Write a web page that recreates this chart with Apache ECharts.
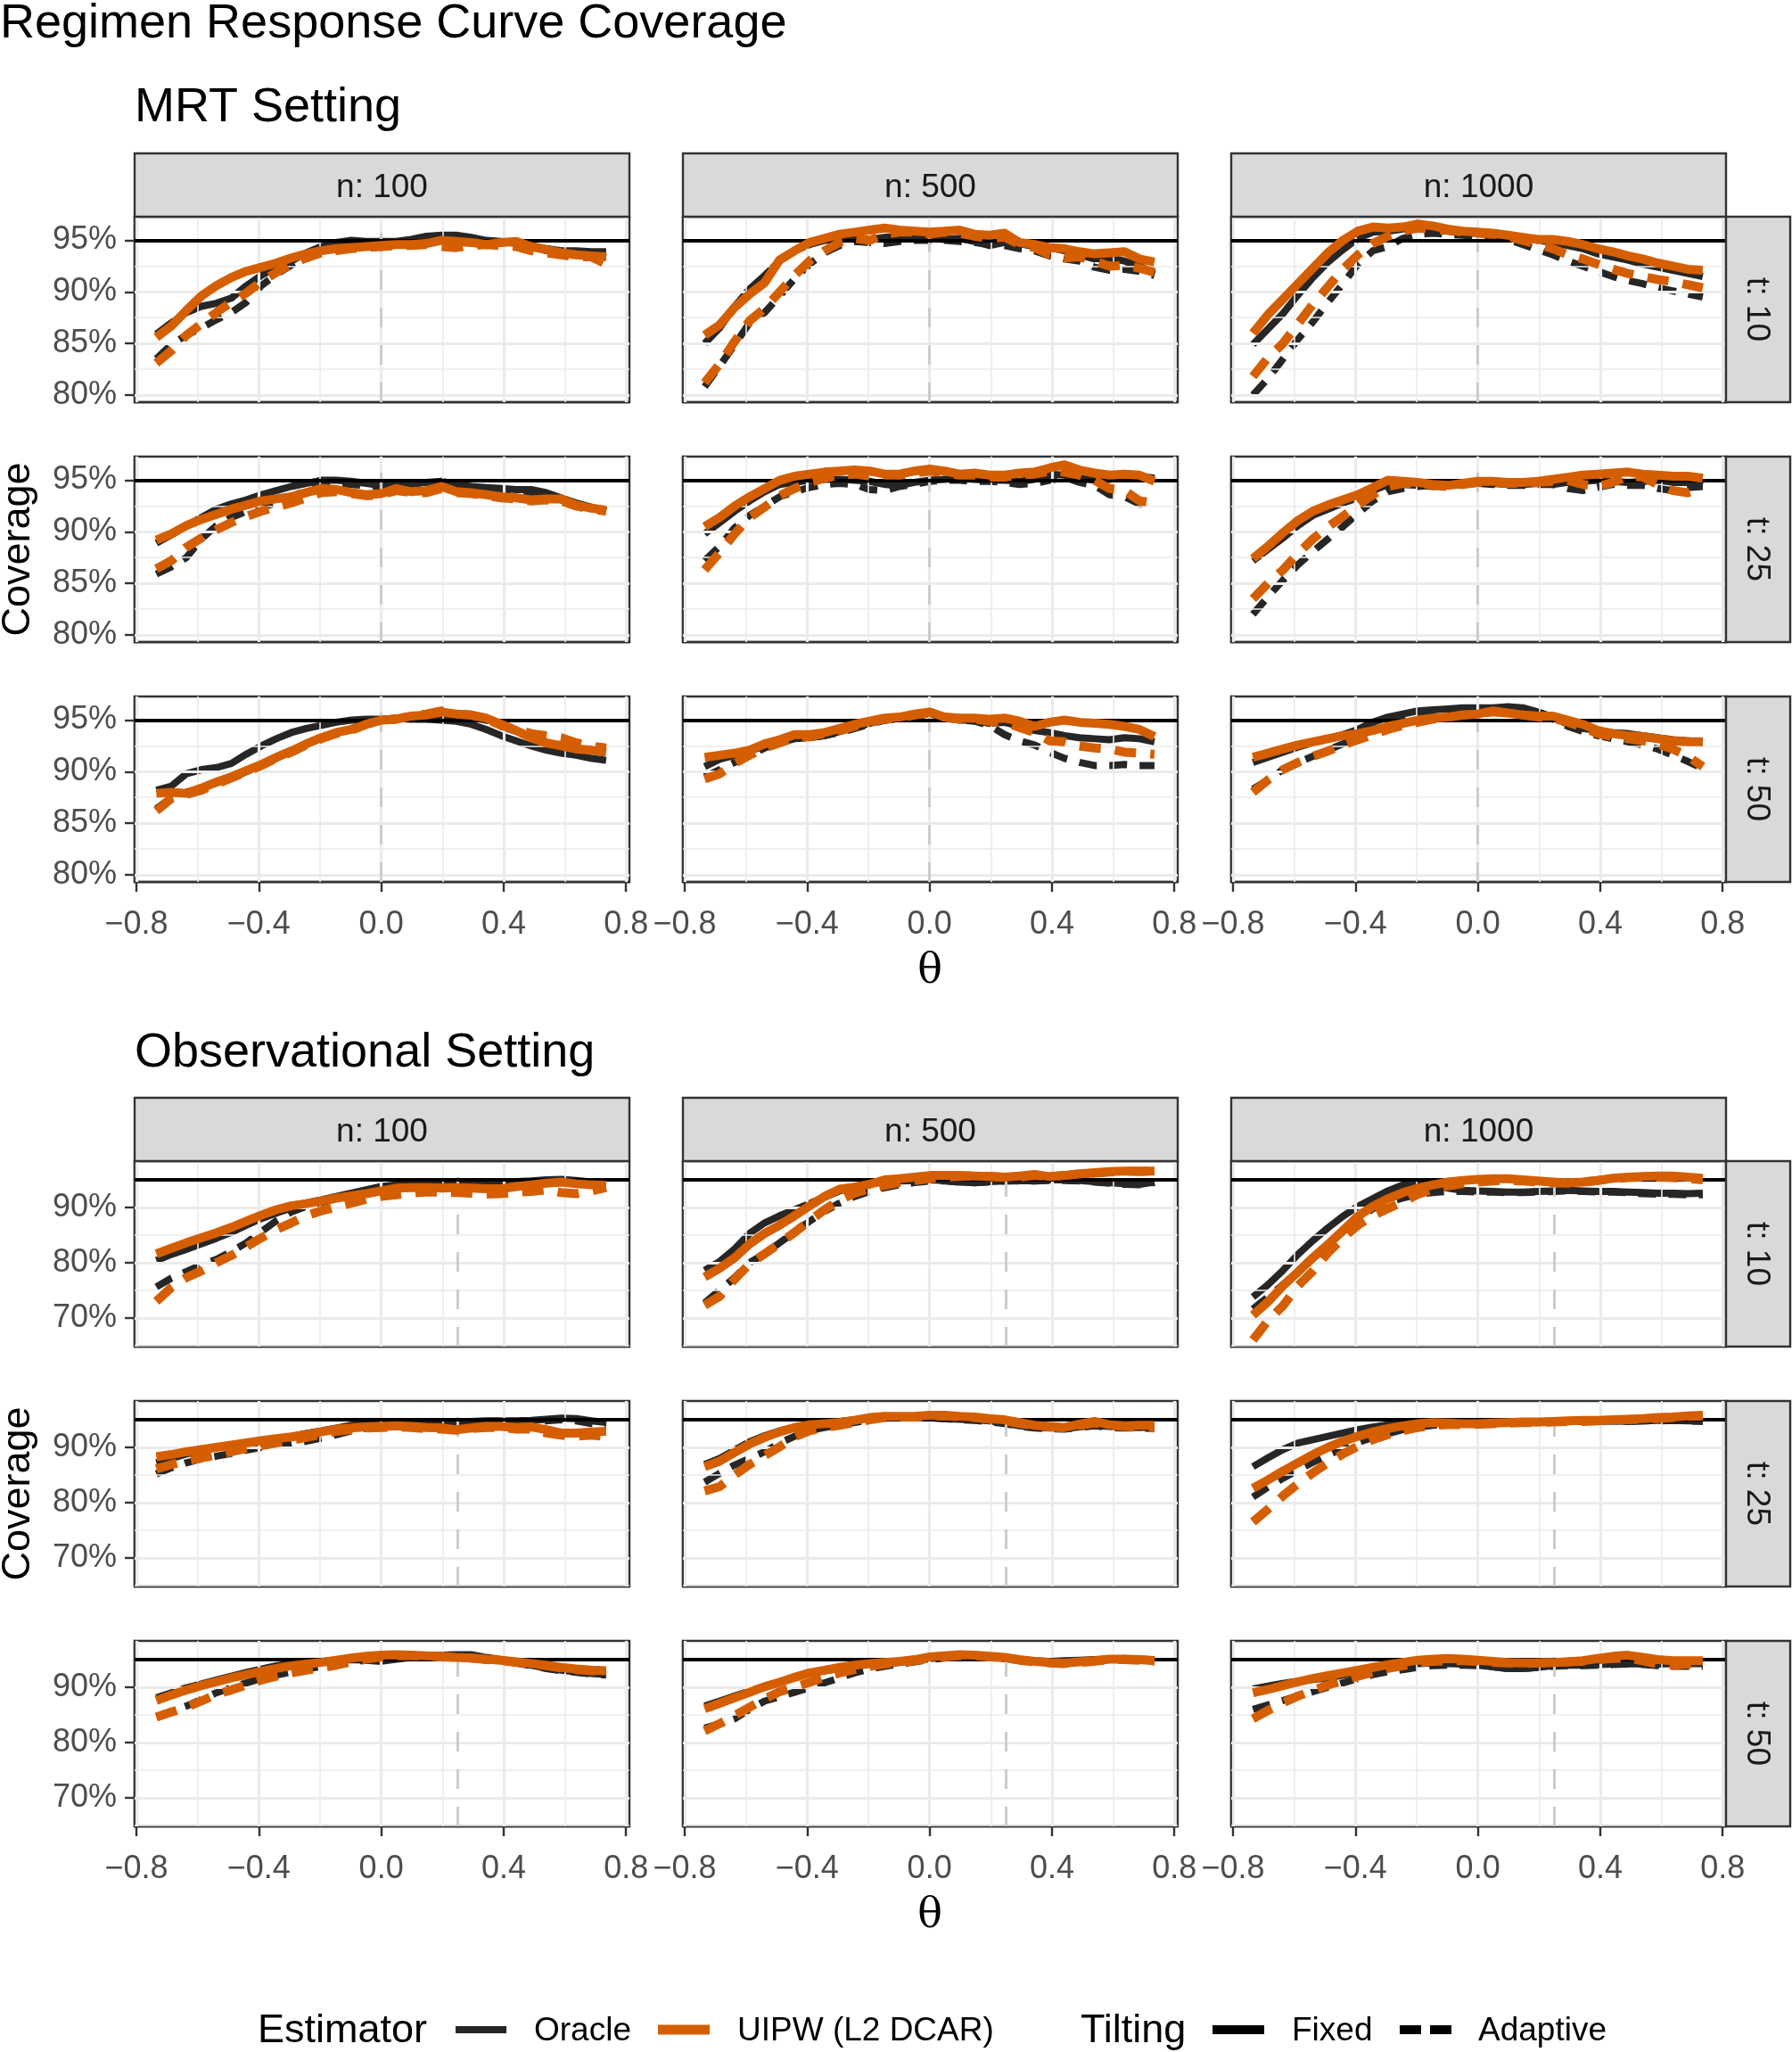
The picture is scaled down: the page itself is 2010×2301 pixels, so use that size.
<!DOCTYPE html>
<html>
<head>
<meta charset="utf-8">
<title>Regimen Response Curve Coverage</title>
<script src="https://cdn.jsdelivr.net/npm/echarts@6/dist/echarts.min.js"></script>
<style>
html, body { margin: 0; padding: 0; background: #ffffff; }
#chart { width: 2010px; height: 2301px; }
</style>
</head>
<body>
<div id="chart"></div>
<script>
// theta grid (x values shared by every curve)
const theta = [-0.735, -0.686, -0.637, -0.588, -0.539, -0.49, -0.441, -0.392, -0.343, -0.294, -0.245, -0.196, -0.147, -0.098, -0.049, 0, 0.049, 0.098, 0.147, 0.196, 0.245, 0.294, 0.343, 0.392, 0.441, 0.49, 0.539, 0.588, 0.637, 0.686, 0.735];

const nLabels = ['n: 100', 'n: 500', 'n: 1000'];
const tLabels = ['t: 10', 't: 25', 't: 50'];
const estimatorLabels = ['Oracle', 'UIPW (L2 DCAR)'];
const tiltingLabels = ['Fixed', 'Adaptive'];
const xTicks = [-0.8, -0.4, 0, 0.4, 0.8];
const xMinor = [-0.6, -0.2, 0.2, 0.6];
const mrtYTicks = [80, 85, 90, 95];
const mrtYMinor = [82.5, 87.5, 92.5];
const obsYTicks = [70, 80, 90];
const obsYMinor = [65, 75, 85, 95];
const nominalCoverage = 95;
const mrtCutoff = 0;
const obsCutoff = 0.25;

// ---- MRT setting, coverage in % ----
const mrt_t10_n100_oracle_fixed = [85.9,87.0,88.0,88.6,88.9,89.4,90.6,91.6,92.4,93.0,93.8,94.4,94.8,95.0,94.9,94.9,94.9,95.1,95.4,95.5,95.5,95.3,95.0,94.9,94.7,94.5,94.2,94.0,94.0,93.9,93.9];
const mrt_t10_n100_oracle_adaptive = [83.5,84.9,85.8,86.5,87.3,88.0,89.0,90.6,91.7,92.6,93.4,94.0,94.4,94.7,94.8,94.9,94.8,95.0,95.2,95.3,95.3,95.1,94.9,94.8,94.6,94.3,94.0,93.8,93.6,93.6,93.4];
const mrt_t10_n100_uipw_fixed = [85.6,86.7,88.2,89.6,90.6,91.4,92.0,92.4,92.8,93.3,93.7,94.0,94.2,94.3,94.4,94.5,94.6,94.6,94.7,95.0,94.9,94.8,94.6,94.8,94.9,94.4,94.1,93.8,93.6,93.5,93.4];
const mrt_t10_n100_uipw_adaptive = [83.1,84.3,85.8,86.9,88.0,89.0,89.9,91.0,91.9,92.7,93.3,93.8,94.0,94.2,94.3,94.4,94.5,94.5,94.6,94.4,94.3,94.5,94.6,94.5,94.4,94.0,93.8,93.6,93.4,93.4,92.7];

const mrt_t10_n500_oracle_fixed = [85.0,86.5,88.6,90.3,91.6,93.0,94.0,94.6,95.0,95.1,95.2,95.1,95.3,95.3,95.2,95.2,95.1,95.2,94.9,94.5,94.8,94.7,94.4,94.3,94.0,93.6,93.2,93.3,93.0,92.5,91.8];
const mrt_t10_n500_oracle_adaptive = [80.8,82.8,84.9,87.0,88.0,89.6,91.3,92.7,93.8,94.5,94.9,94.8,94.7,94.9,95.0,95.0,95.0,94.9,94.8,94.6,94.5,94.2,94.0,93.5,93.2,93.0,92.4,92.1,92.2,92.0,91.6];
const mrt_t10_n500_uipw_fixed = [85.8,86.8,88.5,89.8,90.9,93.1,94.0,94.8,95.2,95.6,95.8,96.0,96.2,96.0,95.9,95.8,95.9,96.0,95.6,95.5,95.7,94.8,94.6,94.3,94.2,93.9,93.7,93.8,93.9,93.2,92.9];
const mrt_t10_n500_uipw_adaptive = [81.2,83.0,85.2,87.2,88.4,90.0,91.6,93.0,94.0,94.8,95.2,95.0,95.6,95.8,95.8,95.6,95.8,95.7,95.4,95.2,95.3,94.6,94.3,93.6,93.3,93.4,93.0,92.5,92.6,92.3,91.9];

const mrt_t10_n1000_oracle_fixed = [84.9,86.4,87.9,89.7,91.4,92.9,94.1,95.2,95.8,95.9,96.1,96.2,96.0,95.9,95.7,95.7,95.6,95.5,95.3,95.0,94.8,94.5,94.2,93.7,93.4,93.1,92.7,92.4,92.1,91.8,91.5];
const mrt_t10_n1000_oracle_adaptive = [80.0,81.6,83.5,85.4,87.1,89.0,90.8,92.7,94.0,94.4,95.2,95.6,95.7,95.6,95.5,95.4,95.3,95.1,94.6,94.1,93.6,93.0,92.5,92.0,91.5,91.1,90.8,90.4,90.1,89.8,89.5];
const mrt_t10_n1000_uipw_fixed = [86.0,87.8,89.3,90.8,92.3,93.8,95.0,95.9,96.3,96.2,96.3,96.6,96.4,96.1,95.9,95.8,95.7,95.5,95.3,95.1,95.1,94.9,94.6,94.2,93.9,93.5,93.2,92.8,92.5,92.2,92.1];
const mrt_t10_n1000_uipw_adaptive = [81.8,83.6,85.0,86.9,88.8,90.5,92.2,93.6,94.7,95.4,95.9,96.2,96.1,96.0,95.8,95.7,95.6,95.4,95.0,94.6,94.2,93.6,93.2,92.7,92.2,91.8,91.5,91.2,91.0,90.7,90.4];

const mrt_t25_n100_oracle_fixed = [88.9,89.7,90.6,91.4,92.2,92.7,93.1,93.6,94.0,94.4,94.7,95.0,95.0,94.9,94.7,94.5,94.6,94.7,94.8,94.9,94.6,94.4,94.3,94.2,94.1,94.1,93.8,93.3,92.8,92.4,92.0];
const mrt_t25_n100_oracle_adaptive = [85.9,86.6,87.5,89.3,90.6,91.4,92.0,92.4,92.8,93.4,94.0,94.5,94.7,94.6,94.5,94.4,94.5,94.6,94.6,94.7,94.5,94.3,94.2,94.1,93.9,93.8,93.5,93.1,92.7,92.3,92.0];
const mrt_t25_n100_uipw_fixed = [89.2,89.8,90.6,91.2,91.7,92.2,92.6,93.0,93.2,93.4,93.8,94.2,94.1,93.8,93.6,93.7,94.2,93.9,94.0,94.4,93.9,93.8,93.6,93.4,93.3,93.1,93.2,93.2,92.6,92.3,92.1];
const mrt_t25_n100_uipw_adaptive = [86.4,87.2,88.5,89.4,90.2,90.9,91.5,92.0,92.4,92.8,93.3,93.8,93.9,93.7,93.5,93.6,94.0,93.8,93.8,94.2,93.8,93.7,93.5,93.3,93.2,93.0,93.1,93.0,92.5,92.2,92.0];

const mrt_t25_n500_oracle_fixed = [89.8,90.9,92.0,93.0,93.9,94.6,94.8,95.0,95.1,95.1,95.0,94.9,94.6,94.5,94.8,95.0,95.1,95.2,95.1,95.0,95.0,94.9,95.1,95.6,95.5,95.2,95.0,95.1,95.3,95.4,95.2];
const mrt_t25_n500_oracle_adaptive = [87.2,88.6,90.4,91.6,92.5,93.4,93.9,94.3,94.6,94.7,94.6,94.1,94.0,94.4,94.6,94.9,95.0,95.0,94.9,94.9,94.8,94.6,94.7,95.0,95.3,94.8,94.5,93.6,93.4,92.7,92.8];
const mrt_t25_n500_uipw_fixed = [90.5,91.4,92.5,93.4,94.2,95.0,95.4,95.6,95.8,95.9,96.0,95.9,95.6,95.6,95.9,96.1,95.9,95.6,95.7,95.5,95.5,95.7,95.8,96.2,96.5,96.0,95.7,95.5,95.6,95.5,94.9];
const mrt_t25_n500_uipw_adaptive = [86.3,88.0,89.8,91.4,92.4,93.5,94.2,94.8,95.2,95.5,95.6,95.4,95.5,95.5,95.7,95.9,95.7,95.5,95.5,95.3,95.3,95.5,95.6,95.9,95.8,95.5,95.0,94.2,94.0,93.0,92.8];

const mrt_t25_n1000_oracle_fixed = [87.2,88.3,89.4,90.6,91.6,92.2,92.8,93.3,94.0,94.6,94.6,94.5,94.4,94.5,94.6,94.7,94.7,94.6,94.6,94.7,94.6,94.8,94.9,95.0,94.9,94.8,94.9,95.0,94.8,94.8,94.5];
const mrt_t25_n1000_oracle_adaptive = [82.0,83.7,85.3,86.8,88.1,89.3,90.5,91.8,93.0,93.9,94.2,94.4,94.5,94.5,94.6,94.7,94.6,94.5,94.5,94.6,94.6,94.2,94.0,94.3,94.6,94.5,94.5,94.2,94.0,94.3,94.4];
const mrt_t25_n1000_uipw_fixed = [87.4,88.6,89.9,91.1,92.0,92.6,93.1,93.6,94.3,95.0,94.9,94.8,94.6,94.5,94.7,94.9,94.9,94.8,94.8,94.9,95.1,95.3,95.5,95.6,95.7,95.8,95.6,95.5,95.4,95.4,95.2];
const mrt_t25_n1000_uipw_adaptive = [83.5,85.0,86.3,87.9,89.3,90.5,91.5,92.6,93.6,94.4,94.7,94.7,94.5,94.4,94.6,94.8,94.8,94.7,94.7,94.8,94.9,95.0,94.6,94.4,94.8,95.4,95.3,94.6,94.0,93.8,94.3];

const mrt_t50_n100_oracle_fixed = [88.2,88.6,89.8,90.2,90.4,90.8,91.7,92.5,93.2,93.8,94.2,94.5,94.8,95.0,95.1,95.1,95.2,95.1,95.1,95.0,94.9,94.6,94.1,93.5,93.0,92.5,92.1,91.8,91.6,91.3,91.1];
const mrt_t50_n100_oracle_adaptive = [86.4,87.5,88.0,88.4,88.9,89.4,90.0,90.6,91.3,92.0,92.7,93.3,93.8,94.2,94.7,95.0,95.1,95.3,95.4,95.6,95.5,95.3,95.0,94.4,93.9,93.3,92.9,92.6,92.3,92.1,91.8];
const mrt_t50_n100_uipw_fixed = [87.9,88.0,87.9,88.4,89.0,89.5,90.1,90.7,91.4,92.0,92.7,93.3,93.8,94.1,94.6,95.0,95.1,95.4,95.5,95.8,95.6,95.5,95.2,94.6,94.0,93.3,92.8,92.5,92.2,92.1,91.9];
const mrt_t50_n100_uipw_adaptive = [86.2,87.4,87.8,88.2,88.8,89.4,90.0,90.6,91.3,91.9,92.6,93.2,93.7,94.0,94.6,95.0,95.1,95.4,95.6,95.9,95.6,95.5,95.1,94.5,94.1,93.7,93.5,93.3,92.8,92.5,92.3];

const mrt_t50_n500_oracle_fixed = [90.5,91.2,91.6,92.0,92.5,92.9,93.3,93.3,93.5,93.9,94.3,94.7,95.0,95.2,95.5,95.6,95.3,95.0,95.0,94.7,94.8,94.4,94.0,93.8,93.5,93.3,93.2,93.1,93.3,93.2,92.9];
const mrt_t50_n500_oracle_adaptive = [89.5,90.2,90.9,91.6,92.3,92.8,93.2,93.3,93.5,93.8,94.2,94.6,95.0,95.1,95.4,95.5,95.2,95.0,94.9,94.5,93.6,93.0,92.6,91.9,91.3,90.9,90.6,90.6,90.7,90.6,90.6];
const mrt_t50_n500_uipw_fixed = [91.4,91.6,91.8,92.1,92.7,93.1,93.6,93.6,93.8,94.2,94.6,94.9,95.2,95.3,95.6,95.8,95.3,95.2,95.2,95.1,95.2,94.9,94.4,94.8,95.0,94.8,94.7,94.6,94.4,94.1,93.4];
const mrt_t50_n500_uipw_adaptive = [89.3,89.8,90.8,91.6,92.3,92.8,93.3,93.4,93.7,94.0,94.4,94.8,95.1,95.2,95.5,95.7,95.3,95.1,95.1,94.9,94.8,94.3,93.8,93.0,92.9,92.5,92.3,92.2,91.9,91.8,91.7];

const mrt_t50_n1000_oracle_fixed = [90.9,91.4,91.9,92.4,92.8,93.2,93.6,94.1,94.8,95.3,95.6,95.9,96.0,96.1,96.2,96.2,96.2,96.3,96.2,95.8,95.3,94.6,94.2,94.0,93.8,93.7,93.5,93.3,93.1,93.0,92.9];
const mrt_t50_n1000_oracle_adaptive = [88.3,89.2,90.2,90.9,91.5,92.1,92.7,93.3,94.2,94.9,95.3,95.7,95.9,96.0,96.1,96.1,96.1,96.2,96.0,95.6,95.1,94.4,93.9,93.5,93.2,92.9,92.6,92.2,91.6,91.0,90.3];
const mrt_t50_n1000_uipw_fixed = [91.4,91.8,92.2,92.6,92.9,93.2,93.5,93.7,94.0,94.4,94.7,95.0,95.2,95.3,95.5,95.6,95.9,95.7,95.5,95.4,95.4,95.0,94.6,94.0,93.7,93.5,93.4,93.2,93.0,92.9,92.9];
const mrt_t50_n1000_uipw_adaptive = [88.0,89.2,90.2,90.9,91.5,92.0,92.6,93.1,93.6,94.1,94.5,94.8,95.1,95.3,95.5,95.6,95.8,95.7,95.5,95.3,95.2,94.8,94.3,93.7,93.4,93.2,93.0,92.7,92.2,91.5,90.5];

// ---- Observational setting, coverage in % ----
const obs_t10_n100_oracle_fixed = [80.4,81.5,82.4,83.4,84.4,85.5,86.8,88.0,89.0,89.9,90.8,91.4,92.0,92.6,93.2,93.8,94.1,94.2,94.3,94.4,94.4,94.5,94.6,94.6,94.7,94.8,95.0,95.1,94.9,94.6,94.4];
const obs_t10_n100_oracle_adaptive = [75.6,77.2,78.4,79.6,80.6,82.0,83.6,85.6,87.6,89.2,90.2,90.9,91.6,92.3,93.0,93.6,93.9,94.0,94.0,94.1,94.2,94.3,94.4,94.4,94.5,94.6,94.8,94.9,94.7,94.5,94.3];
const obs_t10_n100_uipw_fixed = [81.6,82.6,83.6,84.5,85.4,86.4,87.5,88.6,89.6,90.3,90.7,91.2,91.7,92.1,92.5,93.0,93.5,93.6,93.6,93.5,93.6,93.5,93.4,93.4,93.8,94.1,94.4,94.6,94.3,94.1,94.0];
const obs_t10_n100_uipw_adaptive = [73.0,75.5,77.3,78.5,80.0,81.3,82.9,84.5,86.0,87.2,88.5,89.4,90.1,90.8,91.5,92.0,92.3,92.6,92.8,92.8,92.7,92.6,92.4,92.5,92.8,92.9,93.2,92.7,92.5,93.0,93.6];

const obs_t10_n500_oracle_fixed = [78.6,80.2,82.5,85.3,87.2,88.5,89.6,90.7,91.9,93.0,93.8,94.3,94.6,94.8,94.9,95.0,94.9,94.6,94.5,94.7,94.8,94.9,94.8,95.0,95.0,94.9,94.7,94.5,94.3,94.2,94.6];
const obs_t10_n500_oracle_adaptive = [72.7,75.0,77.3,80.0,81.6,83.6,85.6,87.5,89.3,90.8,92.0,92.9,93.6,94.1,94.5,94.8,94.8,94.6,94.5,94.6,94.8,94.8,94.8,94.9,94.9,94.8,94.6,94.4,94.2,94.1,94.5];
const obs_t10_n500_uipw_fixed = [77.4,79.0,80.9,83.4,85.3,86.8,88.5,90.3,92.0,93.3,93.7,94.2,95.0,95.2,95.5,95.8,95.8,95.8,95.7,95.6,95.5,95.7,96.0,95.6,95.8,96.1,96.3,96.5,96.6,96.6,96.6];
const obs_t10_n500_uipw_adaptive = [72.3,73.9,77.0,79.8,81.6,83.5,85.5,87.6,89.6,91.3,92.6,93.4,94.0,94.5,94.9,95.2,95.5,95.6,95.7,95.6,95.5,95.5,95.8,95.6,95.8,96.1,96.2,96.4,96.6,96.5,96.6];

const obs_t10_n1000_oracle_fixed = [73.8,76.0,78.6,81.5,84.0,86.3,88.4,90.2,91.6,93.0,94.1,94.2,93.9,93.5,93.1,93.0,92.9,92.8,92.8,92.9,93.0,93.1,93.0,92.9,92.9,92.8,92.7,92.6,92.6,92.5,92.6];
const obs_t10_n1000_oracle_adaptive = [71.6,73.8,76.0,78.5,81.0,83.3,85.6,87.8,89.8,90.9,91.7,92.4,92.7,92.9,92.9,92.8,92.8,92.7,92.7,92.8,92.9,93.0,92.9,92.8,92.8,92.7,92.5,92.4,92.4,92.3,92.3];
const obs_t10_n1000_uipw_fixed = [70.5,72.9,75.8,78.3,80.9,83.3,85.8,88.4,90.2,91.6,92.7,93.5,94.1,94.6,94.9,95.1,95.2,95.2,95.0,94.8,94.6,94.5,94.6,94.9,95.3,95.5,95.6,95.7,95.7,95.5,95.3];
const obs_t10_n1000_uipw_adaptive = [66.0,69.5,72.2,75.8,78.5,81.8,84.5,86.8,88.5,89.8,91.0,92.4,93.3,93.9,94.3,94.6,94.8,94.9,94.8,94.6,94.5,94.4,94.6,94.9,95.2,95.4,95.5,95.5,95.4,95.2,95.0];

const obs_t25_n100_oracle_fixed = [87.2,88.0,88.8,89.5,90.0,90.4,90.8,91.2,91.6,92.0,92.5,93.0,93.5,94.0,94.2,94.3,94.4,94.5,94.5,94.6,94.7,94.7,94.8,94.8,94.8,94.9,95.1,95.3,95.2,94.8,94.5];
const obs_t25_n100_oracle_adaptive = [85.2,86.3,87.2,87.9,88.4,88.9,89.5,90.0,90.4,90.7,91.1,91.7,92.3,93.0,93.5,93.8,94.0,94.1,94.2,94.2,94.3,94.4,94.5,94.6,94.5,94.6,94.8,95.0,94.8,94.3,94.0];
const obs_t25_n100_uipw_fixed = [88.3,88.7,89.2,89.6,90.0,90.4,90.8,91.2,91.6,91.9,92.3,92.8,93.3,93.5,93.7,93.8,93.9,93.8,93.6,93.5,93.2,93.5,93.8,93.8,93.6,93.7,93.2,92.6,92.6,92.8,92.9];
const obs_t25_n100_uipw_adaptive = [86.1,86.9,87.5,88.1,88.6,89.2,89.8,90.3,90.8,91.3,91.8,92.4,92.9,93.2,93.5,93.6,93.7,93.6,93.4,93.3,93.1,93.4,93.6,93.6,93.3,93.3,92.6,92.2,92.0,92.2,92.0];

const obs_t25_n500_oracle_fixed = [86.9,88.0,89.5,91.0,92.1,93.0,93.6,94.1,94.4,94.7,95.0,95.3,95.5,95.5,95.4,95.4,95.2,95.1,95.0,94.8,94.4,93.9,93.6,93.5,93.4,93.7,94.0,93.8,93.6,93.6,93.7];
const obs_t25_n500_oracle_adaptive = [83.7,85.3,86.8,88.0,89.2,90.8,92.0,93.0,93.6,94.1,94.5,95.0,95.3,95.4,95.4,95.3,95.2,95.0,94.9,94.6,94.3,93.8,93.5,93.4,93.3,93.6,93.9,93.6,93.5,93.5,93.4];
const obs_t25_n500_uipw_fixed = [86.5,87.5,89.1,90.6,91.8,92.8,93.6,94.1,94.3,94.5,94.9,95.4,95.6,95.6,95.6,95.8,95.8,95.6,95.5,95.2,95.0,94.5,94.0,93.8,93.6,94.2,94.7,94.1,93.9,94.0,94.0];
const obs_t25_n500_uipw_adaptive = [82.1,82.9,85.0,86.9,88.5,90.1,91.9,93.0,93.6,94.0,94.5,95.0,95.4,95.5,95.5,95.6,95.7,95.5,95.4,95.1,94.8,94.3,93.9,93.7,93.5,94.0,94.4,94.0,93.8,93.6,93.5];

const obs_t25_n1000_oracle_fixed = [86.5,88.1,89.6,90.8,91.4,92.0,92.6,93.2,93.7,94.1,94.4,94.5,94.5,94.4,94.3,94.4,94.5,94.6,94.6,94.5,94.6,94.7,94.7,94.8,94.8,94.7,94.8,94.9,94.9,94.8,94.8];
const obs_t25_n1000_oracle_adaptive = [81.0,82.8,84.4,85.9,87.3,88.6,89.8,90.9,91.8,92.5,93.2,93.7,94.0,94.1,94.2,94.3,94.3,94.4,94.5,94.5,94.6,94.7,94.7,94.7,94.8,94.7,94.8,94.8,94.9,94.8,94.7];
const obs_t25_n1000_uipw_fixed = [82.6,84.1,85.7,87.2,88.7,90.0,91.1,92.0,92.8,93.4,93.9,94.3,94.5,94.4,94.3,94.3,94.4,94.5,94.6,94.6,94.7,94.8,94.9,94.9,95.0,95.1,95.2,95.4,95.5,95.7,95.8];
const obs_t25_n1000_uipw_adaptive = [76.5,78.8,81.2,83.4,85.4,87.2,88.8,90.2,91.4,92.3,93.0,93.6,94.0,94.1,94.1,94.2,94.3,94.4,94.5,94.5,94.6,94.7,94.7,94.8,94.9,95.0,95.1,95.2,95.4,95.6,95.7];

const obs_t50_n100_oracle_fixed = [88.1,89.0,89.9,90.6,91.3,92.0,92.7,93.3,93.9,94.3,94.5,94.7,94.9,95.0,94.9,94.7,95.1,95.4,95.6,95.8,95.9,95.9,95.4,95.0,94.6,94.0,93.5,93.1,92.8,92.5,92.3];
const obs_t50_n100_oracle_adaptive = [84.7,85.6,86.6,87.8,89.0,89.9,90.8,91.6,92.2,92.8,93.3,93.8,94.2,94.6,94.9,95.1,95.3,95.4,95.5,95.6,95.6,95.5,95.2,94.8,94.4,93.9,93.4,93.0,92.7,92.4,92.2];
const obs_t50_n100_uipw_fixed = [87.6,88.6,89.5,90.3,91.0,91.7,92.3,92.9,93.4,93.9,94.2,94.5,94.9,95.3,95.6,95.8,95.9,95.8,95.7,95.6,95.4,95.3,95.1,94.9,94.6,94.3,94.0,93.6,93.3,93.1,93.0];
const obs_t50_n100_uipw_adaptive = [84.6,85.5,86.4,87.5,88.7,89.5,90.4,91.3,92.0,92.6,93.1,93.5,94.0,94.6,95.1,95.5,95.7,95.7,95.6,95.5,95.4,95.3,95.0,94.8,94.5,94.2,93.9,93.5,93.2,93.0,92.8];

const obs_t50_n500_oracle_fixed = [86.6,87.5,88.4,89.3,90.2,91.0,91.8,92.5,93.0,93.4,93.8,94.1,94.3,94.5,94.8,95.2,95.4,95.6,95.6,95.5,95.3,95.0,94.8,94.7,94.8,94.9,95.0,95.1,95.2,95.1,95.0];
const obs_t50_n500_oracle_adaptive = [82.6,83.4,84.3,86.0,87.5,88.3,89.1,89.9,90.8,91.7,92.6,93.3,93.8,94.2,94.6,95.0,95.3,95.5,95.5,95.4,95.2,94.9,94.7,94.6,94.7,94.8,94.9,95.0,95.1,95.0,94.8];
const obs_t50_n500_uipw_fixed = [86.1,87.1,88.1,89.1,90.1,90.9,91.8,92.6,93.1,93.6,94.0,94.3,94.5,94.7,95.0,95.5,95.7,95.9,95.8,95.6,95.4,95.0,94.7,94.5,94.4,94.6,94.8,95.1,95.1,95.0,94.8];
const obs_t50_n500_uipw_adaptive = [82.1,83.4,84.9,86.4,87.9,89.2,90.0,90.9,91.8,92.6,93.2,93.8,94.2,94.5,94.8,95.3,95.5,95.7,95.7,95.5,95.3,94.9,94.6,94.4,94.3,94.5,94.7,95.0,95.0,94.9,94.6];

const obs_t50_n1000_oracle_fixed = [89.7,90.2,90.7,91.1,91.4,91.7,92.2,92.8,93.3,93.8,94.1,94.3,94.4,94.3,94.2,94.0,93.7,93.4,93.4,93.6,93.9,94.0,94.0,94.1,94.2,94.3,94.2,94.2,94.3,94.3,94.3];
const obs_t50_n1000_oracle_adaptive = [86.0,86.8,87.6,88.4,89.2,90.0,90.8,91.6,92.3,92.8,93.2,93.6,93.9,94.0,94.0,93.9,93.7,93.4,93.4,93.6,93.8,93.9,93.9,94.0,94.1,94.2,94.1,93.9,93.8,93.8,93.8];
const obs_t50_n1000_uipw_fixed = [89.0,89.6,90.3,91.0,91.6,92.1,92.6,93.1,93.6,94.1,94.5,94.9,95.1,95.2,95.1,94.9,94.7,94.5,94.4,94.4,94.5,94.6,94.8,95.2,95.6,95.8,95.4,95.0,94.8,94.8,94.8];
const obs_t50_n1000_uipw_adaptive = [84.3,85.8,87.2,88.4,89.4,90.4,91.2,92.0,92.7,93.4,93.9,94.4,94.7,94.8,94.8,94.7,94.5,94.4,94.3,94.4,94.5,94.6,94.7,95.0,95.2,95.3,94.8,94.2,94.0,94.2,94.4];

// panels[row = t][col = n] -> [oracle fixed, oracle adaptive, uipw fixed, uipw adaptive]
const mrtPanels = [
  [[mrt_t10_n100_oracle_fixed, mrt_t10_n100_oracle_adaptive, mrt_t10_n100_uipw_fixed, mrt_t10_n100_uipw_adaptive],
   [mrt_t10_n500_oracle_fixed, mrt_t10_n500_oracle_adaptive, mrt_t10_n500_uipw_fixed, mrt_t10_n500_uipw_adaptive],
   [mrt_t10_n1000_oracle_fixed, mrt_t10_n1000_oracle_adaptive, mrt_t10_n1000_uipw_fixed, mrt_t10_n1000_uipw_adaptive]],
  [[mrt_t25_n100_oracle_fixed, mrt_t25_n100_oracle_adaptive, mrt_t25_n100_uipw_fixed, mrt_t25_n100_uipw_adaptive],
   [mrt_t25_n500_oracle_fixed, mrt_t25_n500_oracle_adaptive, mrt_t25_n500_uipw_fixed, mrt_t25_n500_uipw_adaptive],
   [mrt_t25_n1000_oracle_fixed, mrt_t25_n1000_oracle_adaptive, mrt_t25_n1000_uipw_fixed, mrt_t25_n1000_uipw_adaptive]],
  [[mrt_t50_n100_oracle_fixed, mrt_t50_n100_oracle_adaptive, mrt_t50_n100_uipw_fixed, mrt_t50_n100_uipw_adaptive],
   [mrt_t50_n500_oracle_fixed, mrt_t50_n500_oracle_adaptive, mrt_t50_n500_uipw_fixed, mrt_t50_n500_uipw_adaptive],
   [mrt_t50_n1000_oracle_fixed, mrt_t50_n1000_oracle_adaptive, mrt_t50_n1000_uipw_fixed, mrt_t50_n1000_uipw_adaptive]]
];
const obsPanels = [
  [[obs_t10_n100_oracle_fixed, obs_t10_n100_oracle_adaptive, obs_t10_n100_uipw_fixed, obs_t10_n100_uipw_adaptive],
   [obs_t10_n500_oracle_fixed, obs_t10_n500_oracle_adaptive, obs_t10_n500_uipw_fixed, obs_t10_n500_uipw_adaptive],
   [obs_t10_n1000_oracle_fixed, obs_t10_n1000_oracle_adaptive, obs_t10_n1000_uipw_fixed, obs_t10_n1000_uipw_adaptive]],
  [[obs_t25_n100_oracle_fixed, obs_t25_n100_oracle_adaptive, obs_t25_n100_uipw_fixed, obs_t25_n100_uipw_adaptive],
   [obs_t25_n500_oracle_fixed, obs_t25_n500_oracle_adaptive, obs_t25_n500_uipw_fixed, obs_t25_n500_uipw_adaptive],
   [obs_t25_n1000_oracle_fixed, obs_t25_n1000_oracle_adaptive, obs_t25_n1000_uipw_fixed, obs_t25_n1000_uipw_adaptive]],
  [[obs_t50_n100_oracle_fixed, obs_t50_n100_oracle_adaptive, obs_t50_n100_uipw_fixed, obs_t50_n100_uipw_adaptive],
   [obs_t50_n500_oracle_fixed, obs_t50_n500_oracle_adaptive, obs_t50_n500_uipw_fixed, obs_t50_n500_uipw_adaptive],
   [obs_t50_n1000_oracle_fixed, obs_t50_n1000_oracle_adaptive, obs_t50_n1000_uipw_fixed, obs_t50_n1000_uipw_adaptive]]
];

// ---- layout / style ----
const FONT = '"Liberation Sans", Arial, Helvetica, sans-serif';
const ORACLE = '#262626';
const UIPW = '#D55E00';
const BORDER = '#333333';
const GRIDC = '#ebebeb';
const COL_LEFT = [151, 766, 1381];
const PANEL_W = 555, PANEL_H = 208, STRIP_H = 71, RSTRIP_W = 72;
const X_MIN = -0.806, X_MAX = 0.811;

const sections = [
  { title: 'MRT Setting', titleY: 121, stripTop: 172, rowTop: [243, 512, 781], yMin: 79.3, yMax: 97.3,
    yTicks: mrtYTicks, yMinor: mrtYMinor, cutoff: mrtCutoff, panels: mrtPanels, thetaY: 1090 },
  { title: 'Observational Setting', titleY: 1181, stripTop: 1231, rowTop: [1302, 1571, 1840], yMin: 64.8, yMax: 98.4,
    yTicks: obsYTicks, yMinor: obsYMinor, cutoff: obsCutoff, panels: obsPanels, thetaY: 2149 }
];

const curveStyles = [
  { color: ORACLE, width: 8, dash: 'solid', z: 3 },
  { color: ORACLE, width: 8, dash: [20, 14], z: 4 },
  { color: UIPW, width: 10, dash: 'solid', z: 5 },
  { color: UIPW, width: 10, dash: [24, 16], z: 6 }
];

const fmtX = v => (v < 0 ? '\u2212' : '') + Math.abs(v).toFixed(1);

const grid = [], xAxis = [], yAxis = [], series = [], graphic = [];

graphic.push({ type: 'text', x: 0, y: 27, style: { text: 'Regimen Response Curve Coverage', font: '54px ' + FONT, fill: '#000', textVerticalAlign: 'middle' } });

sections.forEach(sec => {
  graphic.push({ type: 'text', x: 151, y: sec.titleY, style: { text: sec.title, font: '54px ' + FONT, fill: '#000', textVerticalAlign: 'middle' } });
  const midY = (sec.rowTop[0] + sec.rowTop[2] + PANEL_H) / 2;
  graphic.push({ type: 'text', x: 21, y: midY, rotation: Math.PI / 2,
    style: { text: 'Coverage', font: '45px ' + FONT, fill: '#000', textAlign: 'center', textVerticalAlign: 'middle' } });
  graphic.push({ type: 'text', x: 1043, y: sec.thetaY,
    style: { text: '\u03b8', font: '46px "DejaVu Serif", "Liberation Serif", serif', fill: '#000', textAlign: 'center', textVerticalAlign: 'middle' } });

  // column strips
  nLabels.forEach((lab, c) => {
    graphic.push({ type: 'rect', z: 20, shape: { x: COL_LEFT[c], y: sec.stripTop, width: PANEL_W, height: STRIP_H },
      style: { fill: '#d9d9d9', stroke: BORDER, lineWidth: 2.4 } });
    graphic.push({ type: 'text', z: 21, x: COL_LEFT[c] + PANEL_W / 2, y: sec.stripTop + STRIP_H / 2 + 3,
      style: { text: lab, font: '37px ' + FONT, fill: '#1a1a1a', textAlign: 'center', textVerticalAlign: 'middle' } });
  });
  // row strips
  tLabels.forEach((lab, r) => {
    graphic.push({ type: 'rect', z: 20, shape: { x: COL_LEFT[2] + PANEL_W, y: sec.rowTop[r], width: RSTRIP_W, height: PANEL_H },
      style: { fill: '#d9d9d9', stroke: BORDER, lineWidth: 2.4 } });
    graphic.push({ type: 'text', z: 21, x: COL_LEFT[2] + PANEL_W + RSTRIP_W / 2 - 2, y: sec.rowTop[r] + PANEL_H / 2, rotation: -Math.PI / 2,
      style: { text: lab, font: '37px ' + FONT, fill: '#1a1a1a', textAlign: 'center', textVerticalAlign: 'middle' } });
  });

  sec.panels.forEach((row, r) => row.forEach((curves, c) => {
    const gi = grid.length;
    const bottomRow = r === 2, leftCol = c === 0;
    grid.push({ left: COL_LEFT[c], top: sec.rowTop[r], width: PANEL_W, height: PANEL_H,
      show: true, backgroundColor: '#ffffff', borderColor: BORDER, borderWidth: 2.4 });
    xAxis.push({ type: 'value', gridIndex: gi, min: X_MIN, max: X_MAX,
      axisLine: { show: true, onZero: false, lineStyle: { color: BORDER, width: 2.4 } },
      splitLine: { show: false },
      axisTick: { show: bottomRow, customValues: xTicks, length: 11, lineStyle: { color: BORDER, width: 2.4 } },
      axisLabel: { show: bottomRow, customValues: xTicks, margin: 30, fontSize: 36, fontFamily: FONT, color: '#4d4d4d', formatter: fmtX } });
    yAxis.push({ type: 'value', gridIndex: gi, min: sec.yMin, max: sec.yMax,
      axisLine: { show: true, onZero: false, lineStyle: { color: BORDER, width: 2.4 } },
      splitLine: { show: false },
      axisTick: { show: leftCol, customValues: sec.yTicks, length: 11, lineStyle: { color: BORDER, width: 2.4 } },
      axisLabel: { show: leftCol, customValues: sec.yTicks, margin: 20, fontSize: 36, fontFamily: FONT, color: '#4d4d4d',
        padding: [16, 0, 0, 0], formatter: v => v + '%' } });

    const gridLines = [];
    sec.yMinor.forEach(v => gridLines.push({ yAxis: v, lineStyle: { color: GRIDC, width: 1.6, type: 'solid' } }));
    xMinor.forEach(v => gridLines.push({ xAxis: v, lineStyle: { color: GRIDC, width: 1.6, type: 'solid' } }));
    sec.yTicks.forEach(v => gridLines.push({ yAxis: v, lineStyle: { color: GRIDC, width: 3.2, type: 'solid' } }));
    xTicks.forEach(v => gridLines.push({ xAxis: v, lineStyle: { color: GRIDC, width: 3.2, type: 'solid' } }));
    series.push({ type: 'line', xAxisIndex: gi, yAxisIndex: gi, data: [], silent: true, z: 1,
      markLine: { silent: true, symbol: ['none', 'none'], label: { show: false }, data: gridLines } });
    series.push({ type: 'line', xAxisIndex: gi, yAxisIndex: gi, data: [], silent: true, z: 2,
      markLine: { silent: true, symbol: ['none', 'none'], label: { show: false }, data: [
        { xAxis: sec.cutoff, lineStyle: { color: '#cccccc', width: 3, type: [22, 20] } },
        { yAxis: nominalCoverage, lineStyle: { color: '#000000', width: 4, type: 'solid' } }
      ] } });

    curves.forEach((vals, k) => {
      const st = curveStyles[k];
      series.push({ type: 'line', xAxisIndex: gi, yAxisIndex: gi, z: st.z, silent: true,
        showSymbol: false, symbol: 'none',
        data: theta.map((x, i) => [x, vals[i]]),
        lineStyle: { color: st.color, width: st.width, type: st.dash, cap: 'butt', join: 'round' } });
    });
  }));
});

// legend (drawn manually to mimic the combined ggplot guide)
const LEG_Y = 2278;
graphic.push({ type: 'text', x: 289, y: LEG_Y, style: { text: 'Estimator', font: '45px ' + FONT, fill: '#000', textVerticalAlign: 'middle' } });
graphic.push({ type: 'line', shape: { x1: 511, y1: LEG_Y - 2, x2: 568, y2: LEG_Y - 2 }, style: { stroke: ORACLE, lineWidth: 8 } });
graphic.push({ type: 'text', x: 599, y: LEG_Y, style: { text: estimatorLabels[0], font: '37px ' + FONT, fill: '#000', textVerticalAlign: 'middle' } });
graphic.push({ type: 'line', shape: { x1: 738, y1: LEG_Y - 2, x2: 796, y2: LEG_Y - 2 }, style: { stroke: UIPW, lineWidth: 11 } });
graphic.push({ type: 'text', x: 827, y: LEG_Y, style: { text: estimatorLabels[1], font: '37px ' + FONT, fill: '#000', textVerticalAlign: 'middle' } });
graphic.push({ type: 'text', x: 1212, y: LEG_Y, style: { text: 'Tilting', font: '45px ' + FONT, fill: '#000', textVerticalAlign: 'middle' } });
graphic.push({ type: 'line', shape: { x1: 1360, y1: LEG_Y - 2, x2: 1418, y2: LEG_Y - 2 }, style: { stroke: '#000', lineWidth: 10 } });
graphic.push({ type: 'text', x: 1449, y: LEG_Y, style: { text: tiltingLabels[0], font: '37px ' + FONT, fill: '#000', textVerticalAlign: 'middle' } });
graphic.push({ type: 'line', shape: { x1: 1570, y1: LEG_Y - 2, x2: 1628, y2: LEG_Y - 2 }, style: { stroke: '#000', lineWidth: 10, lineDash: [24, 10] } });
graphic.push({ type: 'text', x: 1658, y: LEG_Y, style: { text: tiltingLabels[1], font: '37px ' + FONT, fill: '#000', textVerticalAlign: 'middle' } });

const chart = echarts.init(document.getElementById('chart'), null, { renderer: 'canvas' });
chart.setOption({
  animation: false,
  backgroundColor: '#ffffff',
  grid, xAxis, yAxis, series, graphic
});
</script>
</body>
</html>
